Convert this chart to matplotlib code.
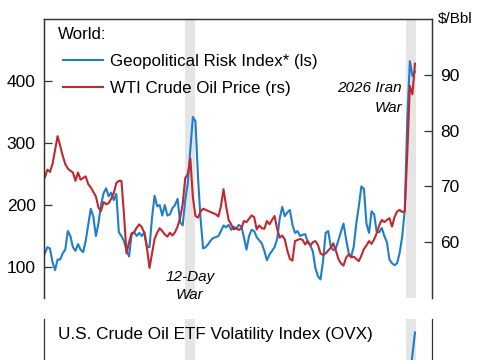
"""
Geopolitical risk vs WTI crude, with the OVX panel peeking in below.
"""

import matplotlib
matplotlib.use("Agg")
import matplotlib.pyplot as plt
import matplotlib.transforms as mtransforms
import pandas as pd

plt.rcParams["font.family"] = ["Liberation Sans", "DejaVu Sans"]

# data (one reading every 3 days from 2024-12-30)
start = "2024-12-30"
gpr = [122, 132, 130, 108, 95, 112, 112, 122, 128, 158,
       150, 132, 126, 137, 128, 124, 142, 168, 194, 181,
       150, 170, 200, 219, 227, 214, 220, 208, 218, 156,
       150, 142, 127, 117, 152, 156, 150, 155, 150, 156,
       133, 132, 180, 215, 198, 200, 183, 200, 183, 185,
       195, 200, 210, 172, 167, 208, 235, 290, 342, 335,
       245, 178, 130, 132, 137, 143, 147, 148, 150, 158,
       167, 164, 168, 160, 165, 162, 168, 165, 148, 128,
       150, 160, 158, 148, 143, 138, 126, 111, 120, 126,
       132, 145, 178, 197, 182, 188, 192, 168, 155, 158,
       150, 152, 153, 140, 135, 125, 98, 85, 80, 110,
       155, 158, 133, 127, 130, 143, 157, 170, 145, 123,
       116, 133, 170, 198, 230, 226, 170, 155, 190, 185,
       157, 156, 163, 150, 140, 112, 106, 103, 106, 123,
       149, 192, 340, 432, 408, 415]
wti = [71.6, 73.0, 72.6, 74.0, 76.5, 79.0, 77.3, 75.5, 74.0, 73.2,
       72.8, 72.5, 71.0, 72.5, 71.2, 71.5, 71.8, 70.4, 69.8, 69.0,
       68.2, 66.2, 65.6, 67.2, 66.8, 67.0, 67.8, 68.8, 70.6, 71.0,
       71.0, 65.0, 58.0, 60.0, 61.6, 61.8, 62.6, 63.2, 62.7, 61.6,
       59.0, 55.4, 58.0, 60.6, 61.7, 62.5, 62.0, 61.4, 61.0, 61.7,
       61.2, 61.8, 62.8, 64.4, 66.8, 71.5, 72.2, 75.0, 68.0, 64.7,
       64.4, 65.5, 66.0, 65.8, 65.6, 65.4, 65.2, 65.0, 64.6, 66.5,
       69.5, 66.5, 64.0, 63.2, 62.3, 62.5, 62.2, 62.5, 63.8, 63.6,
       64.2, 64.8, 64.5, 62.3, 63.0, 62.5, 62.4, 63.8, 63.2, 64.0,
       64.7, 62.4, 60.8, 61.2, 60.5, 58.5, 57.0, 56.7, 60.2, 60.4,
       60.6, 60.4, 59.6, 60.2, 59.4, 60.0, 60.2, 59.5, 58.0, 57.7,
       58.0, 58.5, 59.0, 59.8, 58.5, 57.0, 56.2, 55.8, 57.2, 57.8,
       57.3, 57.4, 57.0, 56.6, 57.6, 58.8, 59.4, 60.2, 59.7, 60.5,
       61.6, 63.0, 64.0, 63.6, 64.0, 64.3, 62.8, 64.5, 65.5, 65.8,
       65.4, 65.5, 76.0, 88.0, 86.5, 92.0]
dates = pd.date_range(start, periods=len(gpr), freq="3D")

# only the tail of the OVX spike is visible in the crop
ovx = [38, 40, 42, 55, 80, 105]
ovx_dates = dates[-len(ovx):]

war_12day = ("2025-06-13", "2025-06-24")
war_iran = ("2026-02-28", "2026-03-11")
x_range = (pd.Timestamp("2024-12-29"), pd.Timestamp("2026-03-30"))

BLUE = "#1f7ec9"
RED = "#c0282f"
SHADE = "#e5e5e5"
SPINE = "#333333"

fig = plt.figure(figsize=(4.85, 3.6), dpi=100)
ax = fig.add_axes([0.0907, 0.1722, 0.8, 0.775])
ax2 = ax.twinx()
ax3 = fig.add_axes([0.0907, -0.1861, 0.8, 0.3])

for a in (ax, ax3):
    a.axvspan(pd.Timestamp(war_12day[0]), pd.Timestamp(war_12day[1]), color=SHADE, lw=0, zorder=0)
    a.axvspan(pd.Timestamp(war_iran[0]), pd.Timestamp(war_iran[1]), color=SHADE, lw=0, zorder=0)

l1, = ax.plot(dates, gpr, color=BLUE, lw=1.5)
l2, = ax2.plot(dates, wti, color=RED, lw=1.5)

ax.set_xlim(*x_range)
ax.set_ylim(50, 500)
ax2.set_ylim(50, 100)
ax.set_yticks([100, 200, 300, 400])
ax2.set_yticks([60, 70, 80, 90])
ax.set_xticks([])

for a in (ax, ax2):
    a.spines["bottom"].set_visible(False)
    for s in a.spines.values():
        s.set_color(SPINE)
        s.set_linewidth(0.9)
    a.tick_params(axis="y", direction="in", length=5.5, width=0.9, color=SPINE,
                  labelsize=12.5, pad=6)

ax.text(1.015, 1.0, "$/Bbl", transform=ax.transAxes, ha="left", va="center", fontsize=11)

ax.text(0.036, 0.945, "World:", transform=ax.transAxes, ha="left", va="center", fontsize=12.2)
ax2.legend([l1, l2], ["Geopolitical Risk Index* (ls)", "WTI Crude Oil Price (rs)"],
           loc="upper left", bbox_to_anchor=(0.049, 0.876), borderaxespad=0, borderpad=0,
           frameon=False, fontsize=12.2, handlelength=2.35, handletextpad=0.4,
           labelspacing=0.72)

trans = mtransforms.blended_transform_factory(ax.transData, ax.transAxes)
ax.text(pd.Timestamp("2025-06-18 12:00"), 0.043, "12-Day\nWar", transform=trans,
        ha="center", va="center", fontsize=11, style="italic", linespacing=1.35)
ax.text(pd.Timestamp("2026-02-23"), 0.717, "2026 Iran\nWar", transform=trans,
        ha="right", va="center", multialignment="right", fontsize=11, style="italic",
        linespacing=1.55)

# lower panel
ax3.plot(ovx_dates, ovx, color=BLUE, lw=1.5)
ax3.set_xlim(*x_range)
ax3.set_ylim(0, 120)
ax3.set_xticks([])
ax3.set_yticks([])
ax3.spines["top"].set_visible(False)
ax3.spines["bottom"].set_visible(False)
for s in ("left", "right"):
    ax3.spines[s].set_color(SPINE)
    ax3.spines[s].set_linewidth(0.9)
ax3.text(0.036, 0.852, "U.S. Crude Oil ETF Volatility Index (OVX)", transform=ax3.transAxes,
         ha="left", va="center", fontsize=12.3)

fig.savefig("out.png", dpi=100)
